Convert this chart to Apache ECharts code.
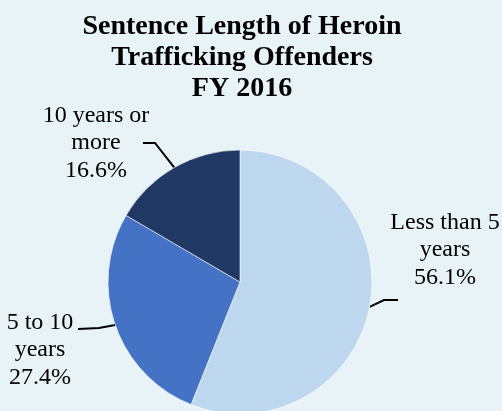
<!DOCTYPE html>
<html>
<head>
<meta charset="utf-8">
<script src="https://cdn.jsdelivr.net/npm/echarts@6/dist/echarts.min.js"></script>
<style>
html,body{margin:0;padding:0;background:#e8f3f8;}
#c{width:502px;height:411px;}
</style>
</head>
<body>
<div id="c"></div>
<script>
var categories = ['Less than 5 years', '5 to 10 years', '10 years or more'];
var labelNames = ['Less than 5\nyears', '5 to 10\nyears', '10 years or\nmore'];
var values = [56.1, 27.4, 16.6];
var colors = ['#bdd7ee', '#4472c4', '#1f3864'];

// label placement (text centre, line bend, line end)
var labelPlace = [
  {x: 445, y: 250, bend: [384, 300], end: [398, 300]},
  {x: 40, y: 350, bend: [99, 328], end: [78, 329]},
  {x: 96, y: 143, bend: [155, 143], end: [143, 143]}
];

var chart = echarts.init(document.getElementById('c'), null, {renderer: 'canvas'});
var font = '"Liberation Serif", "Times New Roman", serif';
chart.setOption({
  backgroundColor: '#e8f3f8',
  animation: false,
  title: {
    text: 'Sentence Length of Heroin\nTrafficking Offenders\nFY 2016',
    left: 237,
    top: 6,
    textAlign: 'center',
    textStyle: {fontFamily: font, fontWeight: 'bold', fontSize: 28, lineHeight: 31, color: '#000'}
  },
  series: [{
    type: 'pie',
    center: [240, 282],
    radius: 132,
    startAngle: 90,
    clockwise: true,
    avoidLabelOverlap: false,
    itemStyle: {borderColor: '#ffffff', borderWidth: 0.6},
    label: {
      show: true,
      position: 'outside',
      fontFamily: font,
      fontSize: 24,
      lineHeight: 27.5,
      color: '#000',
      align: 'center',
      formatter: function (p) { return labelNames[p.dataIndex] + '\n' + p.value.toFixed(1) + '%'; }
    },
    labelLine: {show: true, lineStyle: {color: '#000', width: 2}},
    labelLayout: function (p) {
      var lp = labelPlace[p.dataIndex];
      var start = p.labelLinePoints ? p.labelLinePoints[0] : lp.bend;
      return {
        x: lp.x, y: lp.y, align: 'center', verticalAlign: 'middle',
        labelLinePoints: [start, lp.bend, lp.end]
      };
    },
    data: categories.map(function (c, i) {
      return {name: c, value: values[i], itemStyle: {color: colors[i]}};
    })
  }]
});
</script>
</body>
</html>
